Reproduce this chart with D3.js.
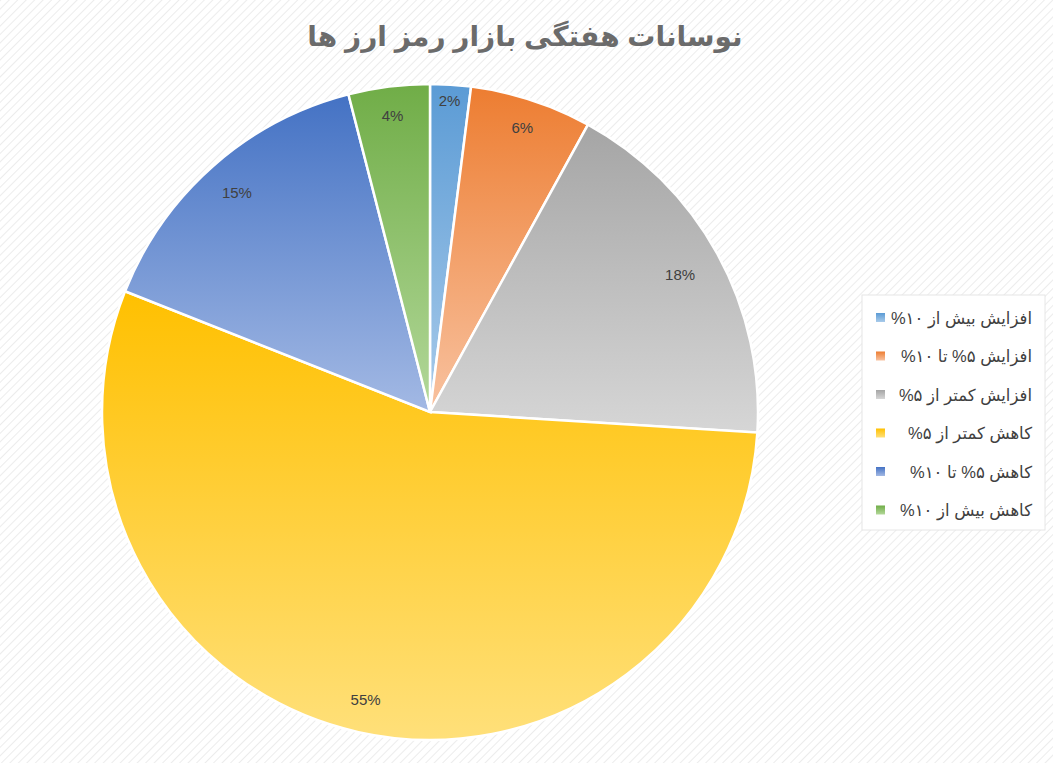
<!DOCTYPE html><html><head><meta charset="utf-8"><script src="https://cdn.jsdelivr.net/npm/d3@7"></script>
<style>body{margin:0}svg{display:block}</style></head><body><svg id="c" width="1053" height="763"></svg>
<script>
const categories=["افزایش بیش از ۱۰%","افزایش ۵% تا ۱۰%","افزایش کمتر از ۵%","کاهش کمتر از ۵%","کاهش ۵% تا ۱۰%","کاهش بیش از ۱۰%"];
const values=[2,6,18,55,15,4];
const topColors=["#5b9bd5","#ed7d31","#a5a5a5","#ffc000","#4472c4","#70ad47"];
const botColors=["#a9cbea","#f8c2a0","#d6d6d6","#ffe07a","#a3b9e4","#b3d89a"];
const title="نوسانات هفتگی بازار رمز ارز ها";
const svg=d3.select("#c");
const defs=svg.append("defs");
const pat=defs.append("pattern").attr("id","hatch").attr("width",6).attr("height",6).attr("patternUnits","userSpaceOnUse").attr("patternTransform","rotate(45)");
pat.append("rect").attr("width",6).attr("height",6).attr("fill","#fff");
pat.append("line").attr("x1",0).attr("y1",0).attr("x2",0).attr("y2",6).attr("stroke","#ececec").attr("stroke-width",2);
svg.append("rect").attr("width",1053).attr("height",763).attr("fill","url(#hatch)");
categories.forEach((c,i)=>{const g=defs.append("linearGradient").attr("id","g"+i).attr("x1",0).attr("y1",0).attr("x2",0).attr("y2",1);
g.append("stop").attr("offset","0%").attr("stop-color",topColors[i]);g.append("stop").attr("offset","100%").attr("stop-color",botColors[i]);});
svg.append("text").attr("x",525).attr("y",46).attr("text-anchor","middle").attr("font-family","Arial, 'Liberation Sans', 'DejaVu Sans'").attr("font-weight","bold").attr("font-size",28).attr("fill","#6b6b6b").attr("direction","rtl").text(title);
const cx=430,cy=412,r=328;
const pie=d3.pie().sort(null)(values);
const arc=d3.arc().innerRadius(0).outerRadius(r);
const g=svg.append("g").attr("transform",`translate(${cx},${cy})`);
g.selectAll("path").data(pie).join("path").attr("d",arc).attr("fill",(d,i)=>`url(#g${i})`).attr("stroke","#fff").attr("stroke-width",2.5);
const lr=[0.95,0.91,0.87,0.9,0.89,0.91];
g.selectAll("text").data(pie).join("text").attr("transform",(d,i)=>{const a=(d.startAngle+d.endAngle)/2;const rr=r*lr[i];return `translate(${Math.sin(a)*rr},${-Math.cos(a)*rr})`})
.attr("text-anchor","middle").attr("dy","0.35em").attr("font-family","Arial, 'Liberation Sans'").attr("font-size",15).attr("fill","#404040").text(d=>d.data+"%");
const lg=svg.append("g");
lg.append("rect").attr("x",862).attr("y",295).attr("width",183).attr("height",235).attr("fill","#fff").attr("stroke","#e6e6e6");
categories.forEach((c,i)=>{const y=318+i*38.5;
lg.append("rect").attr("x",876).attr("y",y-5).attr("width",9).attr("height",9).attr("fill",`url(#g${i})`);
lg.append("text").attr("x",1032).attr("y",y).attr("dy","0.35em").attr("text-anchor","start").attr("direction","rtl").attr("font-family","Arial, 'Liberation Sans', 'DejaVu Sans'").attr("font-size",16.5).attr("fill","#404040").text(c);});
</script></body></html>
